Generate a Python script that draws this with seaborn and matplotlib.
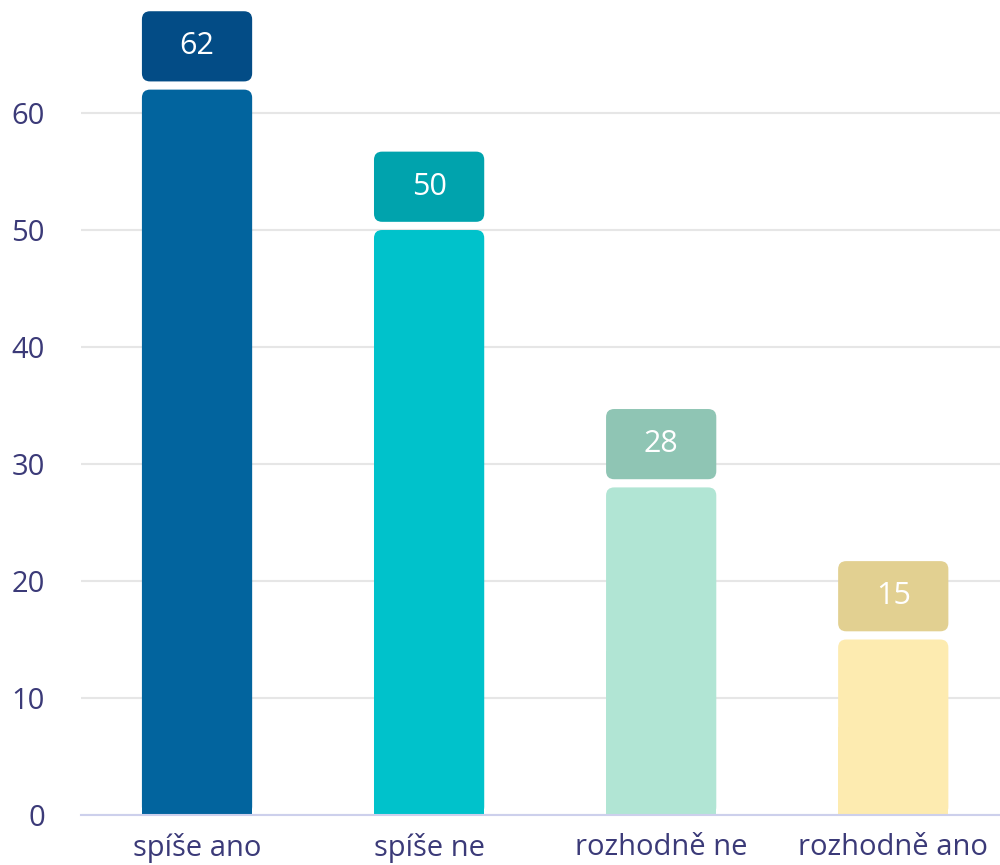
import matplotlib
matplotlib.use("Agg")
import matplotlib.pyplot as plt
from matplotlib.patches import FancyBboxPatch, Rectangle
import seaborn as sns

categories = ["spíše ano", "spíše ne", "rozhodně ne", "rozhodně ano"]
values = [62, 50, 28, 15]
bar_colors = ["#02649E", "#00C2CB", "#B1E5D4", "#FDEBB0"]
badge_colors = ["#034C86", "#00A3AD", "#8FC5B4", "#E2D091"]
yticks = [0, 10, 20, 30, 40, 50, 60]

sns.set_theme(style="white")
plt.rcParams["font.family"] = ["Open Sans", "DejaVu Sans"]
text_color = "#3B3A78"

fig = plt.figure(figsize=(10, 8.65), dpi=100)
ax = fig.add_axes([0.081, (865 - 815) / 865, 0.919, 815 / 865])

sns.barplot(x=categories, y=values, hue=categories, palette=bar_colors,
            legend=False, width=0.475, ax=ax, saturation=1)

ax.set_xlim(-0.5, 3.46)
ax.set_ylim(0, 69.66)

# pixel-to-data aspect used for rounded corners
aspect = (232 / 11.7)
rx = 0.035

for patch, val, bc, tc in zip(list(ax.patches), values, bar_colors, badge_colors):
    x0 = patch.get_x()
    w = patch.get_width()
    h = patch.get_height()
    patch.set_visible(False)
    # bar with rounded top corners
    ax.add_patch(FancyBboxPatch((x0, 0), w, h,
                                boxstyle=f"round,pad=0,rounding_size={rx}",
                                mutation_aspect=aspect, fc=bc, ec="none", zorder=3))
    ax.add_patch(Rectangle((x0, 0), w, h * 0.5, fc=bc, ec="none", zorder=3))
    # value badge above the bar
    gap, bh = 0.7, 6.0
    ax.add_patch(FancyBboxPatch((x0, h + gap), w, bh,
                                boxstyle=f"round,pad=0,rounding_size={rx}",
                                mutation_aspect=aspect, fc=tc, ec="none",
                                zorder=3, clip_on=False))
    ax.text(x0 + w / 2, h + gap + bh / 2, f"{val}", ha="center", va="center",
            color="white", fontsize=22, zorder=4)

ax.set_yticks(yticks)
ax.set_yticklabels([str(t) for t in yticks])
ax.yaxis.grid(True, color="#E6E6E6", linewidth=1.5, zorder=0)
ax.set_axisbelow(True)
for s in ["top", "right", "left"]:
    ax.spines[s].set_visible(False)
ax.spines["bottom"].set_color("#CDD0EC")
ax.spines["bottom"].set_linewidth(1.5)
ax.spines["bottom"].set_zorder(5)

ax.tick_params(axis="y", length=0, pad=26, labelsize=21, labelcolor=text_color)
ax.tick_params(axis="x", length=0, pad=13, labelsize=21, labelcolor=text_color)
ax.set_xlabel("")
ax.set_ylabel("")

fig.savefig("out.png", dpi=100)
